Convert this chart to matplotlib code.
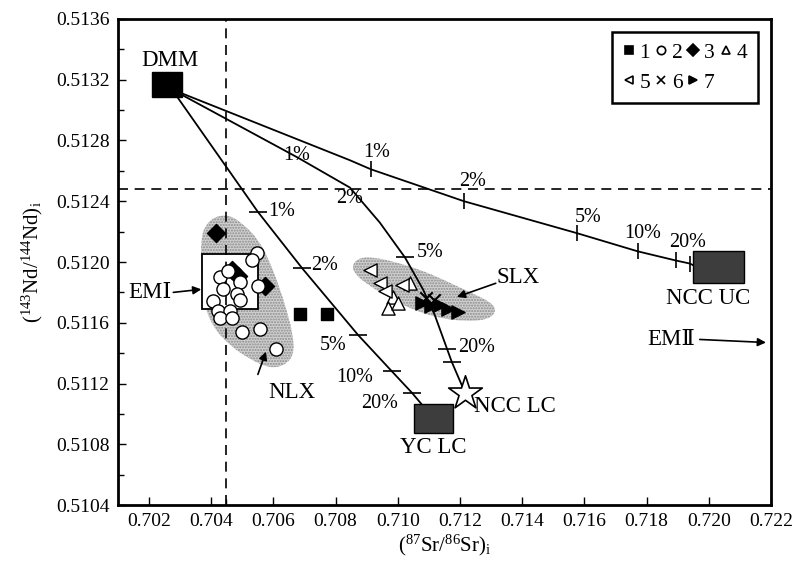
import numpy as np
import matplotlib.pyplot as plt
from matplotlib.lines import Line2D
from matplotlib.patches import PathPatch, Rectangle
from matplotlib.path import Path
from matplotlib.ticker import FormatStrFormatter, MultipleLocator

plt.rcParams.update({
    "font.family": ["Liberation Serif", "DejaVu Serif"],
    "mathtext.fontset": "custom",
    "mathtext.rm": "Liberation Serif",
    "mathtext.it": "Liberation Serif:italic",
    "font.size": 14,
    "hatch.linewidth": 1.0,
})

# end members (87Sr/86Sr, 143Nd/144Nd)
dmm = (0.70258, 0.51317)
ncc_uc = (0.72031, 0.51197)
yc_lc = (0.71115, 0.51097)
ncc_lc = (0.71216, 0.51114)

# reference lines
sr_bulk = 0.70447
nd_chur = 0.51248

# mixing curves
mix_uc_x = [0.70258, 0.70306, 0.70846, 0.70914, 0.71213, 0.71576, 0.71772, 0.71894, 0.71939, 0.71949]
mix_uc_y = [0.51317, 0.51311, 0.51267, 0.51261, 0.51240, 0.51219, 0.51207, 0.51201, 0.51199, 0.51198]
mix_ncclc_x = [0.70258, 0.70306, 0.70676, 0.70846, 0.70942, 0.71023, 0.71081, 0.71119, 0.71158, 0.71174, 0.71216]
mix_ncclc_y = [0.51317, 0.51310, 0.51269, 0.51249, 0.51226, 0.51203, 0.51182, 0.51165, 0.51143, 0.51134, 0.51114]
mix_yclc_x = [0.70258, 0.70293, 0.70550, 0.70692, 0.70872, 0.70981, 0.71045, 0.71078]
mix_yclc_y = [0.51317, 0.51308, 0.51233, 0.51196, 0.51152, 0.51128, 0.51114, 0.51106]

# percentage ticks on the curves
tick_uc_x = [0.70914, 0.71213, 0.71576, 0.71772, 0.71894, 0.71939]
tick_uc_y = [0.51261, 0.51240, 0.51219, 0.51207, 0.51201, 0.51199]
tick_ncclc_x = [0.71023, 0.71158, 0.71174]
tick_ncclc_y = [0.51203, 0.51143, 0.51134]
tick_yclc_x = [0.70550, 0.70692, 0.70872, 0.70981, 0.71045]
tick_yclc_y = [0.51233, 0.51196, 0.51152, 0.51128, 0.51114]

pct_labels = [
    ("1%", 0.70933, 0.51272), ("2%", 0.71242, 0.51253), ("5%", 0.71611, 0.51229),
    ("10%", 0.71788, 0.51219), ("20%", 0.71933, 0.51213),
    ("1%", 0.70676, 0.51270), ("2%", 0.70846, 0.51242), ("5%", 0.71103, 0.51206),
    ("20%", 0.71254, 0.51144),
    ("1%", 0.70627, 0.51233), ("2%", 0.70766, 0.51198), ("5%", 0.70791, 0.51145),
    ("10%", 0.70862, 0.51124), ("20%", 0.70942, 0.51107),
]

# samples
g1_x = [0.70685, 0.70772]
g1_y = [0.51166, 0.51166]
g2_x = [0.70546, 0.70530, 0.70428, 0.70455, 0.70492, 0.70551, 0.70439, 0.70482, 0.70492,
        0.70406, 0.70423, 0.70460, 0.70428, 0.70466, 0.70498, 0.70557, 0.70608]
g2_y = [0.51206, 0.51201, 0.51190, 0.51194, 0.51187, 0.51184, 0.51182, 0.51179, 0.51175,
        0.51174, 0.51168, 0.51168, 0.51163, 0.51163, 0.51154, 0.51156, 0.51143]
g3_x = [0.70415, 0.70467, 0.70486, 0.70573]
g3_y = [0.51219, 0.51195, 0.51191, 0.51184]
g4_x = [0.70984, 0.70968, 0.71039, 0.71000]
g4_y = [0.51177, 0.51170, 0.51186, 0.51173]
g5_x = [0.70910, 0.70942, 0.70959, 0.71013]
g5_y = [0.51195, 0.51186, 0.51181, 0.51185]
g6_x = [0.71090, 0.71116]
g6_y = [0.51176, 0.51175]
g7_x = [0.71078, 0.71106, 0.71135, 0.71161, 0.71193]
g7_y = [0.51173, 0.51171, 0.51172, 0.51169, 0.51167]

# outlines of the sample fields
nlx_x = [0.70380, 0.70412, 0.70460, 0.70508, 0.70550, 0.70582, 0.70615, 0.70643, 0.70663,
         0.70666, 0.70637, 0.70589, 0.70524, 0.70460, 0.70406, 0.70377, 0.70367, 0.70367]
nlx_y = [0.51224, 0.51230, 0.51231, 0.51224, 0.51215, 0.51203, 0.51186, 0.51168, 0.51152,
         0.51139, 0.51132, 0.51130, 0.51136, 0.51145, 0.51157, 0.51172, 0.51195, 0.51215]
slx_x = [0.70852, 0.70878, 0.70926, 0.70991, 0.71071, 0.71151, 0.71232, 0.71296, 0.71319,
         0.71290, 0.71216, 0.71135, 0.71055, 0.70975, 0.70904, 0.70862]
slx_y = [0.51198, 0.51203, 0.51203, 0.51200, 0.51195, 0.51188, 0.51180, 0.51174, 0.51168,
         0.51162, 0.51161, 0.51163, 0.51168, 0.51176, 0.51185, 0.51192]

# EM I box
emi_box = (0.70370, 0.70550, 0.51169, 0.51205)


def smooth_patch(xs, ys, **kw):
    # closed outline with quadratic curves through the edge midpoints
    pts = np.column_stack([xs, ys])
    n = len(pts)
    mids = (pts + np.roll(pts, -1, axis=0)) / 2
    verts = [mids[-1]]
    codes = [Path.MOVETO]
    for i in range(n):
        verts += [pts[i], mids[i]]
        codes += [Path.CURVE3, Path.CURVE3]
    return PathPatch(Path(verts, codes), **kw)


fig = plt.figure(figsize=(7.97, 5.62), dpi=100)
ax = fig.add_axes([0.148, 0.1014, 0.8193, 0.8648])

field_style = dict(fc="#d0d0d0", ec="#8c8c8c", lw=0, hatch="......", zorder=1)
ax.add_patch(smooth_patch(nlx_x, nlx_y, **field_style))
ax.add_patch(smooth_patch(slx_x, slx_y, **field_style))
ax.add_patch(Rectangle((emi_box[0], emi_box[2]), emi_box[1] - emi_box[0], emi_box[3] - emi_box[2],
                       fc="white", ec="black", lw=1.3, zorder=1.5))

ax.axvline(sr_bulk, color="black", ls=(0, (6, 4)), lw=1.2, zorder=1.6)
ax.axhline(nd_chur, color="black", ls=(0, (6, 4)), lw=1.2, zorder=1.6)

for cx, cy in [(mix_uc_x, mix_uc_y), (mix_ncclc_x, mix_ncclc_y), (mix_yclc_x, mix_yclc_y)]:
    ax.plot(cx, cy, color="black", lw=1.3, zorder=2)
ax.plot(tick_uc_x, tick_uc_y, ls="none", marker="|", ms=11, mew=1.2, color="black", zorder=2)
ax.plot(tick_ncclc_x, tick_ncclc_y, ls="none", marker="_", ms=13, mew=1.2, color="black", zorder=2)
ax.plot(tick_yclc_x, tick_yclc_y, ls="none", marker="_", ms=13, mew=1.2, color="black", zorder=2)
for txt, tx, ty in pct_labels:
    ax.text(tx, ty, txt, fontsize=14.5, ha="center", va="center", zorder=3)

# end member boxes
def em_box(center, w, h, fc):
    ax.add_patch(Rectangle((center[0] - w / 2, center[1] - h / 2), w, h,
                           fc=fc, ec="black", lw=1, zorder=4))

em_box(dmm, 0.00097, 0.000165, "black")
em_box(ncc_uc, 0.00164, 0.000211, "#3d3d3d")
em_box(yc_lc, 0.00125, 0.000191, "#3d3d3d")
ax.scatter([ncc_lc[0]], [ncc_lc[1]], marker="*", s=650, fc="white", ec="black", lw=1.2, zorder=6)

# samples
ax.scatter(g1_x, g1_y, marker="s", s=85, c="black", zorder=5)
ax.scatter(g3_x, g3_y, marker="D", s=85, c="black", zorder=5)
ax.scatter(g2_x, g2_y, marker="o", s=90, fc="white", ec="black", lw=1, zorder=5)
ax.scatter(g4_x, g4_y, marker="^", s=90, fc="white", ec="black", lw=1, zorder=5)
ax.scatter(g5_x, g5_y, marker="<", s=90, fc="white", ec="black", lw=1, zorder=5)
ax.scatter(g7_x, g7_y, marker=">", s=90, c="black", zorder=5)
ax.scatter(g6_x, g6_y, marker="x", s=80, c="black", lw=1.5, zorder=5)

# names
name_fs = 16.5
ax.text(0.70267, 0.51333, "DMM", fontsize=name_fs, ha="center", va="center")
ax.text(0.71997, 0.51176, "NCC UC", fontsize=name_fs, ha="center", va="center")
ax.text(0.71113, 0.51078, "YC LC", fontsize=name_fs, ha="center", va="center")
ax.text(0.71377, 0.51105, "NCC LC", fontsize=name_fs, ha="center", va="center")
ax.text(0.70203, 0.51180, "EMⅠ", fontsize=name_fs, ha="center", va="center")
ax.text(0.71878, 0.51149, "EMⅡ", fontsize=name_fs, ha="center", va="center")
ax.text(0.70660, 0.51114, "NLX", fontsize=name_fs, ha="center", va="center")
ax.text(0.71386, 0.51190, "SLX", fontsize=name_fs, ha="center", va="center")

arrow = dict(arrowstyle="-|>", color="black", lw=1.2, mutation_scale=12, shrinkA=0, shrinkB=0)
ax.annotate("", xy=(0.70368, 0.51182), xytext=(0.70278, 0.51180), arrowprops=arrow)
ax.annotate("", xy=(0.72184, 0.51147), xytext=(0.71971, 0.51149), arrowprops=arrow)
ax.annotate("", xy=(0.70576, 0.51141), xytext=(0.70550, 0.51126), arrowprops=arrow)
ax.annotate("", xy=(0.71190, 0.51177), xytext=(0.71315, 0.51186), arrowprops=arrow)

ax.set_xlim(0.701, 0.722)
ax.set_ylim(0.5104, 0.5136)
ax.set_xticks(np.arange(0.702, 0.7221, 0.002))
ax.set_xticks([sr_bulk], minor=True)
ax.xaxis.set_major_formatter(FormatStrFormatter("%.3f"))
ax.yaxis.set_major_locator(MultipleLocator(0.0004))
ax.yaxis.set_minor_locator(MultipleLocator(0.0002))
ax.yaxis.set_major_formatter(FormatStrFormatter("%.4f"))
ax.tick_params(which="both", direction="in", labelsize=14, width=1)
ax.tick_params(which="major", length=6, pad=6)
ax.tick_params(which="minor", length=4)
for sp in ax.spines.values():
    sp.set_linewidth(2)

ax.set_xlabel(r"($^{87}$Sr/$^{86}$Sr)$_{\rm i}$", fontsize=15, labelpad=2)
ax.set_ylabel(r"($^{143}$Nd/$^{144}$Nd)$_{\rm i}$", fontsize=15, labelpad=8)

# legend, ordered so rows read 1-4 then 5-7
def proxy(m, filled):
    return Line2D([], [], ls="none", marker=m, ms=6, mec="black",
                  mfc="black" if filled else "white", mew=1.2)

handles = [proxy("s", True), proxy("<", False), proxy("o", False), proxy("x", True),
           proxy("D", True), proxy(">", True), proxy("^", False)]
labels = ["1", "5", "2", "6", "3", "7", "4"]
leg = ax.legend(handles, labels, ncol=4, loc="upper right", bbox_to_anchor=(0.980, 0.973),
                borderaxespad=0, fontsize=15.5, handlelength=0.6, handletextpad=0.2,
                columnspacing=0.2, labelspacing=0.45, fancybox=False, framealpha=1,
                edgecolor="black", borderpad=0.5)
leg.get_frame().set_linewidth(1.8)

fig.savefig("out.png", dpi=100)
